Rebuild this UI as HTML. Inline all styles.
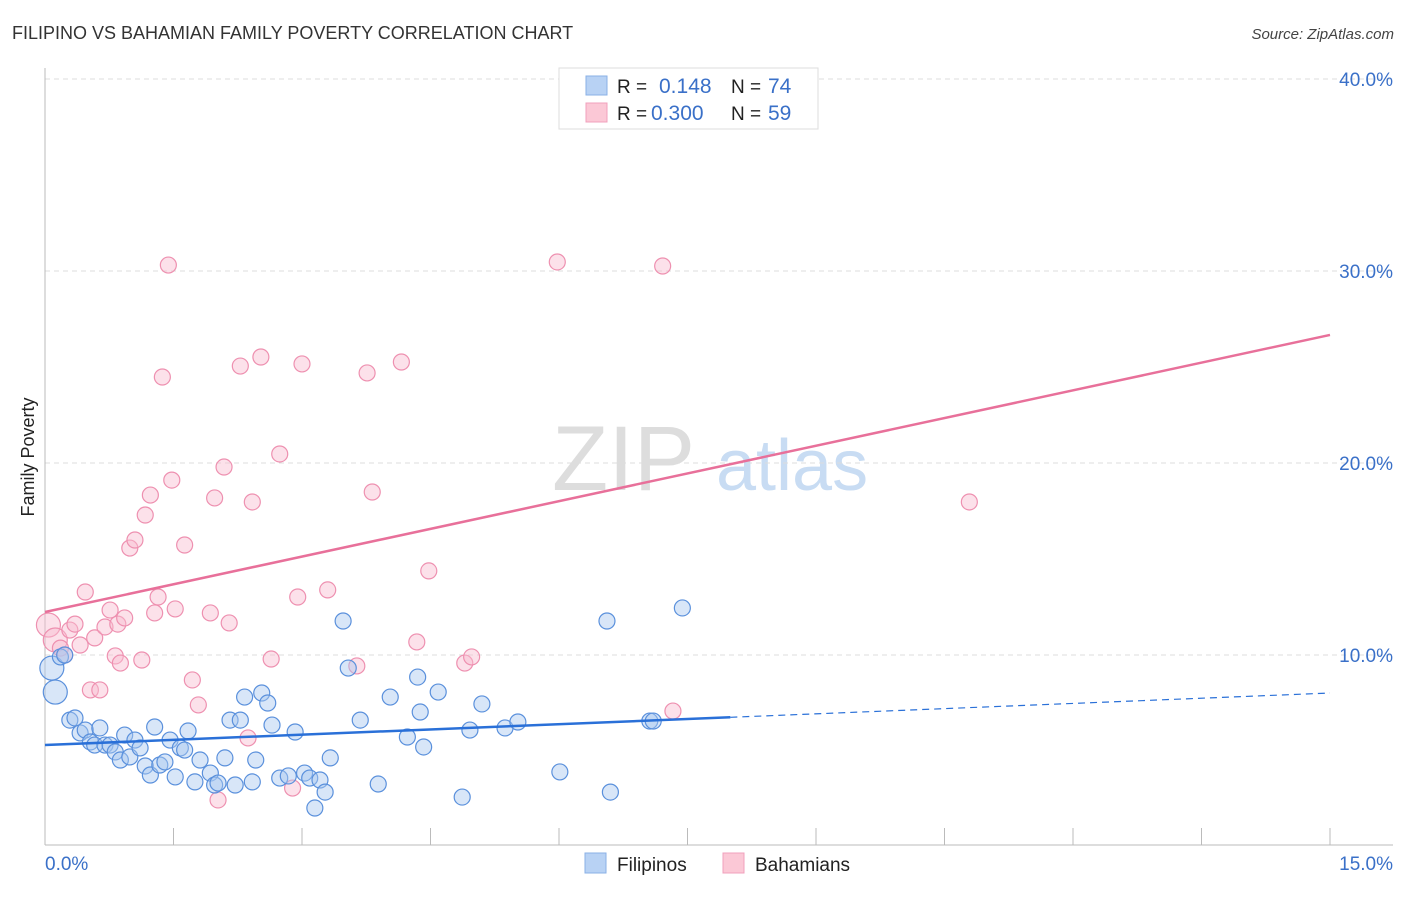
<!DOCTYPE html>
<html><head><meta charset="utf-8"><style>
body{margin:0;background:#fff;font-family:"Liberation Sans",sans-serif;}
svg text{font-family:"Liberation Sans",sans-serif;}
</style></head><body>
<svg id="chart" width="1406" height="892" viewBox="0 0 1406 892">
<text x="12" y="39" font-size="18" fill="#333">FILIPINO VS BAHAMIAN FAMILY POVERTY CORRELATION CHART</text>
<text x="1394" y="39" font-size="15" fill="#444" font-style="italic" text-anchor="end">Source: ZipAtlas.com</text>
<text x="34" y="457" font-size="18" fill="#222" text-anchor="middle" transform="rotate(-90 34 457)">Family Poverty</text>
<g>
<text x="552" y="490" font-size="92" fill="#ddd" font-family="Liberation Serif">ZIP</text>
<text x="716" y="490" font-size="72" fill="#c8dcf3">atlas</text>
</g>
<g id="grid"></g><g id="axes"></g><g id="marks"></g>
<g>
<rect x="559" y="68" width="259" height="61" fill="#fff" stroke="#ddd"/>
<rect x="586" y="76" width="21" height="19" fill="#b8d2f4" stroke="#8ab0e6"/>
<rect x="586" y="103" width="21" height="19" fill="#fbc8d6" stroke="#f0a0bc"/>
<text x="617" y="93" font-size="19" fill="#222">R = </text><text x="659" y="93" font-size="21" fill="#3a70c8">0.148</text>
<text x="731" y="93" font-size="19" fill="#222">N = </text><text x="768" y="93" font-size="21" fill="#3a70c8">74</text>
<text x="617" y="120" font-size="19" fill="#222">R = </text><text x="651" y="120" font-size="21" fill="#3a70c8">0.300</text>
<text x="731" y="120" font-size="19" fill="#222">N = </text><text x="768" y="120" font-size="21" fill="#3a70c8">59</text>
</g>
<g>
<rect x="585" y="853" width="21" height="20" fill="#b8d2f4" stroke="#8ab0e6"/>
<text x="617" y="871" font-size="19" fill="#222">Filipinos</text>
<rect x="723" y="853" width="21" height="20" fill="#fbc8d6" stroke="#f0a0bc"/>
<text x="755" y="871" font-size="19" fill="#222">Bahamians</text>
</g>
</svg>
<script>
const blueX=[0.08,0.12,0.18,0.23,0.29,0.35,0.41,0.47,0.53,0.58,0.64,0.70,0.76,0.82,0.88,0.93,0.99,1.05,1.11,1.17,1.23,1.28,1.34,1.40,1.46,1.52,1.58,1.63,1.67,1.75,1.81,1.93,1.98,2.02,2.10,2.16,2.22,2.28,2.33,2.42,2.46,2.53,2.60,2.65,2.74,2.84,2.92,3.03,3.09,3.15,3.21,3.27,3.33,3.48,3.54,3.68,3.89,4.03,4.23,4.35,4.38,4.42,4.59,4.87,4.96,5.10,5.37,5.52,6.01,6.56,6.60,7.06,7.10,7.44];
const blueY=[9.32,8.07,9.90,10.0,6.61,6.72,5.94,6.09,5.47,5.31,6.20,5.31,5.31,4.95,4.53,5.83,4.69,5.57,5.16,4.22,3.75,6.25,4.27,4.43,5.57,3.65,5.16,5.05,6.04,3.39,4.53,3.85,3.23,3.33,4.64,6.61,3.23,6.61,7.81,3.39,4.53,8.02,7.50,6.35,3.59,3.70,5.99,3.85,3.59,2.03,3.49,2.86,4.64,11.77,9.32,6.61,3.28,7.81,5.73,8.85,7.03,5.21,8.07,2.60,6.09,7.45,6.20,6.51,3.91,11.77,2.86,6.56,6.56,12.45];
const pinkX=[0.04,0.12,0.18,0.23,0.29,0.35,0.41,0.47,0.53,0.58,0.64,0.70,0.76,0.82,0.85,0.88,0.93,0.99,1.05,1.13,1.17,1.23,1.28,1.32,1.37,1.44,1.48,1.52,1.63,1.72,1.79,1.93,1.98,2.02,2.09,2.15,2.28,2.37,2.42,2.52,2.64,2.74,2.89,2.95,3.00,3.30,3.64,3.76,3.82,4.16,4.34,4.48,4.90,4.98,5.98,7.21,7.33,10.79];
const pinkY=[11.56,10.78,10.36,10.0,11.30,11.61,10.52,13.28,8.18,10.89,8.18,11.46,12.34,9.95,11.61,9.58,11.93,15.57,15.99,9.74,17.29,18.33,12.19,13.02,24.48,30.31,19.11,12.40,15.73,8.70,7.40,12.19,18.18,2.45,19.79,11.67,25.05,5.68,17.97,25.52,9.79,20.47,3.07,13.02,25.16,13.39,9.43,24.69,18.49,25.26,10.68,14.38,9.58,9.90,30.47,30.26,7.08,17.97];
const blueTrend=[5.31,8.02];
const pinkTrend=[12.24,26.67];
const yTicks=[10,20,30,40];
const yTickLabels=["10.0%","20.0%","30.0%","40.0%"];
const xTicks=[0,1.5,3,4.5,6,7.5,9,10.5,12,13.5,15];
const NS="http://www.w3.org/2000/svg";
const X=v=>45+v/15*1285, Y=v=>847-v*19.2;
function mk(parent,tag,attrs){const e=document.createElementNS(NS,tag);for(const k in attrs)e.setAttribute(k,attrs[k]);document.getElementById(parent).appendChild(e);return e;}
yTicks.forEach((t,i)=>{
 const l=mk('grid','line',{x1:45,x2:1393,y1:Y(t),y2:Y(t),stroke:'#ddd','stroke-dasharray':'5,4'});
 
 
 const tx=mk('grid','text',{x:1393,y:Y(t)+7,'font-size':19,fill:'#3a70c8','text-anchor':'end'});
 tx.textContent=yTickLabels[i];
 
 
});
let a=mk('axes','line',{x1:45,x2:45,y1:68,y2:845,stroke:'#bbb'});


a=mk('axes','line',{x1:45,x2:1393,y1:845,y2:845,stroke:'#bbb'});


xTicks.slice(1).forEach(t=>{const l=mk('axes','line',{x1:X(t),x2:X(t),y1:828,y2:845,stroke:'#bbb'});
 
 });
let t0=mk('axes','text',{x:45,y:870,'font-size':19,fill:'#3a70c8'});t0.textContent="0.0%";


let t1=mk('axes','text',{x:1393,y:870,'font-size':19,fill:'#3a70c8','text-anchor':'end'});t1.textContent="15.0%";


function dots(xs,ys,fill,stroke,name){xs.forEach((x,i)=>{const r=(x<0.15)?12:8;
 const c=mk('marks','circle',{cx:X(x),cy:Y(ys[i]),r:r,fill:fill,'fill-opacity':0.45,stroke:stroke,'stroke-width':1.2});
 
 });}
dots(pinkX,pinkY,'#f8bcd0','#ee90b0','bahamian-point');
dots(blueX,blueY,'#a8c8f0','#5a90dc','filipino-point');
const bm=blueTrend[0]+(blueTrend[1]-blueTrend[0])*8/15;
let ln=mk('marks','line',{x1:X(0),y1:Y(blueTrend[0]),x2:X(8),y2:Y(bm),stroke:'#2a70d8','stroke-width':2.5});


ln=mk('marks','line',{x1:X(8),y1:Y(bm),x2:X(15),y2:Y(blueTrend[1]),stroke:'#2a70d8','stroke-width':1.2,'stroke-dasharray':'7,5'});


ln=mk('marks','line',{x1:X(0),y1:Y(pinkTrend[0]),x2:X(15),y2:Y(pinkTrend[1]),stroke:'#e8709a','stroke-width':2.5});


</script>
</body></html>
